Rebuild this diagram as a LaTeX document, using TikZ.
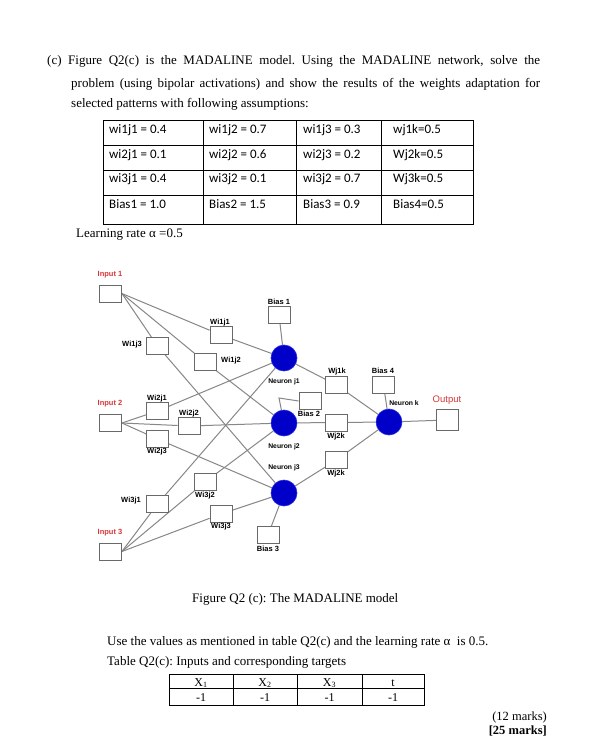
\documentclass[tikz,border=0pt]{standalone}
\usepackage{fontspec}
\setmainfont{Liberation Serif}
\newfontfamily\calfont{Carlito}
\newfontfamily\arialfont{Liberation Sans}
\definecolor{boxgray}{RGB}{105,105,105}
\definecolor{linegray}{RGB}{135,135,135}
\definecolor{nblue}{RGB}{0,0,200}
\definecolor{nblue2}{RGB}{40,40,230}
\definecolor{inred}{RGB}{215,55,55}
\pgfdeclarelayer{bg}
\pgfsetlayers{bg,main}
\frenchspacing
\tikzset{
  wbox/.style={draw=boxgray, fill=white, line width=0.8pt, minimum width=22pt, minimum height=17pt, inner sep=0pt},
  neuron/.style={circle, fill=nblue, draw=nblue2, line width=0.6pt, minimum size=26pt, inner sep=0pt},
  conn/.style={draw=linegray, line width=1pt},
  wlab/.style={font=\arialfont\bfseries\fontsize{7.5}{8}\selectfont, inner sep=0pt},
  nlab/.style={font=\arialfont\bfseries\fontsize{6.8}{7}\selectfont, inner sep=0pt},
  inlab/.style={font=\arialfont\bfseries\fontsize{7.5}{8}\selectfont, text=inred, inner sep=0pt},
  outlab/.style={font=\arialfont\fontsize{9.5}{10}\selectfont, text=inred, inner sep=0pt},
  bodytext/.style={font=\fontsize{13}{15}\selectfont, inner sep=0pt, anchor=base west},
  celltext/.style={font=\calfont\fontsize{13}{15}\selectfont, inner sep=0pt, anchor=base west},
  smalltext/.style={font=\fontsize{12}{14}\selectfont, inner sep=0pt, anchor=base},
  tabline/.style={draw=black, line width=0.8pt}
}
\begin{document}
\begin{tikzpicture}[x=1pt,y=1pt]
\useasboundingbox (0,0) rectangle (599,-743);
\begin{pgfonlayer}{bg}
\fill[white] (0,0) rectangle (599,-743);
\end{pgfonlayer}

% ---------- top text ----------
\node[bodytext] (l1) at (47,-65) {\makebox[493pt][s]{(c) Figure Q2(c) is the MADALINE model. Using the MADALINE network, solve the}};
\node[bodytext] (l2) at (71,-88) {\makebox[469pt][s]{problem (using bipolar activations) and show the results of the weights adaptation for}};
\node[bodytext] (l3) at (71,-108) {selected patterns with following assumptions:};

% ---------- weights table ----------
\draw[tabline] (103,-120) rectangle (473,-224);
\draw[tabline] (103,-145) -- (473,-145);
\draw[tabline] (103,-170) -- (473,-170);
\draw[tabline] (103,-195) -- (473,-195);
\draw[tabline] (203,-120) -- (203,-224);
\draw[tabline] (296,-120) -- (296,-224);
\draw[tabline] (381,-120) -- (381,-224);

\node[celltext] (c11) at (109,-134) {wi1j1 = 0.4};
\node[celltext] (c12) at (209,-134) {wi1j2 = 0.7};
\node[celltext] (c13) at (303,-134) {wi1j3 = 0.3};
\node[celltext] (c14) at (393,-134) {wj1k=0.5};
\node[celltext] (c21) at (109,-159) {wi2j1 = 0.1};
\node[celltext] (c22) at (209,-159) {wi2j2 = 0.6};
\node[celltext] (c23) at (303,-159) {wi2j3 = 0.2};
\node[celltext] (c24) at (393,-159) {Wj2k=0.5};
\node[celltext] (c31) at (109,-183) {wi3j1 = 0.4};
\node[celltext] (c32) at (209,-183) {wi3j2 = 0.1};
\node[celltext] (c33) at (303,-183) {wi3j2 = 0.7};
\node[celltext] (c34) at (393,-183) {Wj3k=0.5};
\node[celltext] (c41) at (109,-208) {Bias1 = 1.0};
\node[celltext] (c42) at (209,-208) {Bias2 = 1.5};
\node[celltext] (c43) at (303,-208) {Bias3 = 0.9};
\node[celltext] (c44) at (393,-208) {Bias4=0.5};

\node[bodytext] (lr) at (76,-237) {Learning rate α =0.5};

% ---------- network nodes ----------
\node[wbox] (in1) at (110.5,-293.5) {};
\node[wbox] (in2) at (110.5,-423) {};
\node[wbox] (in3) at (110.5,-551.5) {};
\node[wbox] (w11) at (221,-335) {};
\node[wbox] (w12) at (205,-362) {};
\node[wbox] (w13) at (157.5,-346) {};
\node[wbox] (w21) at (157.5,-411) {};
\node[wbox] (w22) at (189,-426) {};
\node[wbox] (w23) at (157.5,-439) {};
\node[wbox] (w31) at (157.5,-504) {};
\node[wbox] (w32) at (205,-482) {};
\node[wbox] (w33) at (221,-514) {};
\node[wbox] (b1) at (279,-315) {};
\node[wbox] (b2) at (310,-401) {};
\node[wbox] (b3) at (268,-535) {};
\node[wbox] (b4) at (383.5,-385) {};
\node[wbox] (wk1) at (336.5,-385) {};
\node[wbox] (wk2) at (336.5,-422.5) {};
\node[wbox] (wk3) at (336.5,-460) {};
\node[wbox, minimum height=21pt] (out) at (447.5,-420) {};
\node[neuron] (j1) at (284,-358) {};
\node[neuron] (j2) at (284,-423) {};
\node[neuron] (j3) at (284,-493) {};
\node[neuron] (k) at (389,-422) {};
\coordinate (b2bend) at (279,-398);

% ---------- connectors ----------
\begin{pgfonlayer}{bg}
\draw[conn] (in1.east) -- (w11) -- (j1);
\draw[conn] (in1.east) -- (w12) -- (j2);
\draw[conn] (in1.east) -- (w13) -- (j3);
\draw[conn] (in2.east) -- (w21) -- (j1);
\draw[conn] (in2.east) -- (w22) -- (j2);
\draw[conn] (in2.east) -- (w23) -- (j3);
\draw[conn] (in3.east) -- (w31) -- (j1);
\draw[conn] (in3.east) -- (w32) -- (j2);
\draw[conn] (in3.east) -- (w33) -- (j3);
\draw[conn] (b1) -- (j1);
\draw[conn] (j2) -- (b2bend) -- (b2.west);
\draw[conn] (b3) -- (j3);
\draw[conn] (j1) -- (wk1) -- (k);
\draw[conn] (j2) -- (wk2) -- (k);
\draw[conn] (j3) -- (wk3) -- (k);
\draw[conn] (b4) -- (k);
\draw[conn] (k) -- (out);
\end{pgfonlayer}

% ---------- network labels ----------
\node[inlab] (lin1) at (110,-275) {Input 1};
\node[inlab] (lin2) at (110,-404) {Input 2};
\node[inlab] (lin3) at (110,-533) {Input 3};
\node[wlab] (lw11) at (220,-323) {Wi1j1};
\node[wlab] (lw13) at (132,-345) {Wi1j3};
\node[wlab] (lw12) at (231,-361) {Wi1j2};
\node[wlab] (lw21) at (157,-399) {Wi2j1};
\node[wlab] (lw22) at (189,-414) {Wi2j2};
\node[wlab] (lw23) at (157,-452) {Wi2j3};
\node[wlab] (lw31) at (131,-501) {Wi3j1};
\node[wlab] (lw32) at (205,-496) {Wi3j2};
\node[wlab] (lw33) at (221,-527) {Wi3j3};
\node[wlab] (lb1) at (279,-302) {Bias 1};
\node[wlab] (lb2) at (309,-414) {Bias 2};
\node[wlab] (lb3) at (268,-549) {Bias 3};
\node[wlab] (lb4) at (383,-371) {Bias 4};
\node[wlab] (lwk1) at (337,-372) {Wj1k};
\node[wlab] (lwk2) at (336,-437) {Wj2k};
\node[wlab] (lwk3) at (336,-474) {Wj2k};
\node[nlab] (lj1) at (284,-382) {Neuron j1};
\node[nlab] (lj2) at (284,-447) {Neuron j2};
\node[nlab] (lj3) at (284,-468) {Neuron j3};
\node[nlab] (lk) at (404,-403) {Neuron k};
\node[outlab] (lout) at (447,-400) {Output};

% ---------- bottom text ----------
\node[bodytext] (cap) at (192,-602) {Figure Q2 (c): The MADALINE model};
\node[bodytext] (use) at (107,-645) {Use the values as mentioned in table Q2(c) and the learning rate α \ is 0.5.};
\node[bodytext] (tq) at (107,-665) {Table Q2(c): Inputs and corresponding targets};

\draw[tabline] (169,-674) rectangle (424,-705);
\draw[tabline] (169,-688) -- (424,-688);
\draw[tabline] (233,-674) -- (233,-705);
\draw[tabline] (297,-674) -- (297,-705);
\draw[tabline] (362,-674) -- (362,-705);
\node[smalltext] (x1) at (201,-686) {X\textsubscript{1}};
\node[smalltext] (x2) at (265,-686) {X\textsubscript{2}};
\node[smalltext] (x3) at (329.5,-686) {X\textsubscript{3}};
\node[smalltext] (tt) at (393,-686) {t};
\node[smalltext] (v1) at (201,-701) {-1};
\node[smalltext] (v2) at (265,-701) {-1};
\node[smalltext] (v3) at (329.5,-701) {-1};
\node[smalltext] (v4) at (393,-701) {-1};

\node[font=\fontsize{12.5}{14}\selectfont, inner sep=0pt, anchor=base east] (m12) at (547,-720) {(12 marks)};
\node[font=\fontsize{12.5}{14}\selectfont\bfseries, inner sep=0pt, anchor=base east] (m25) at (547,-734) {[25 marks]};
\end{tikzpicture}
\end{document}
